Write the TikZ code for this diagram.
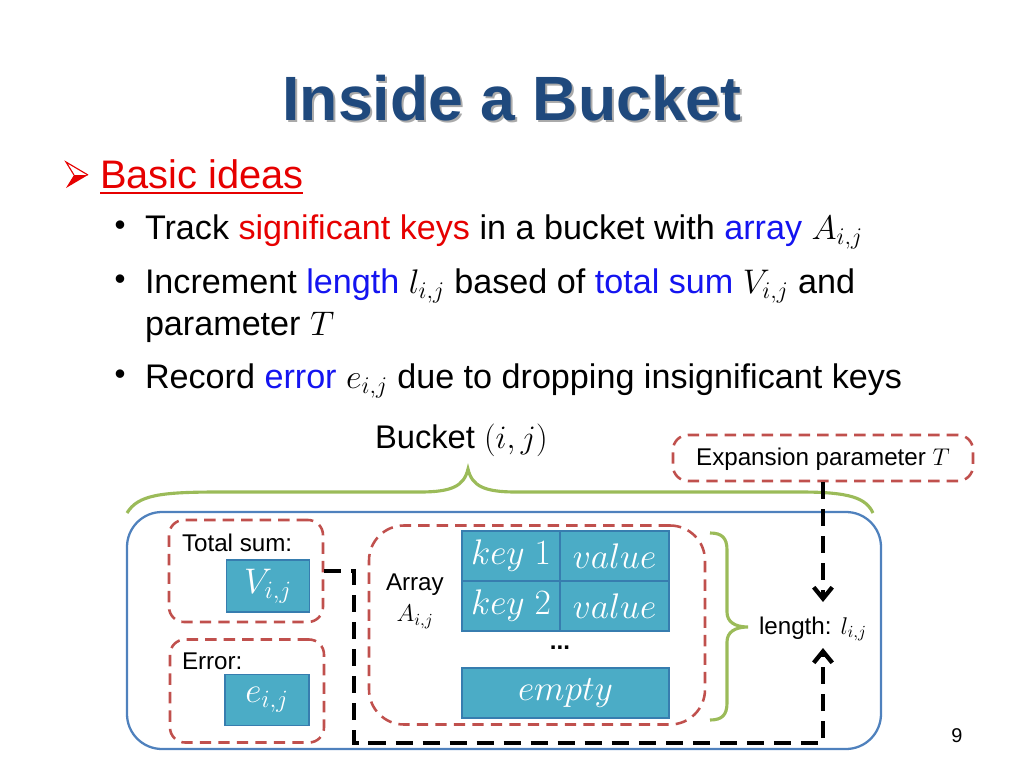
\RequirePackage{fix-cm}
\documentclass[tikz,border=0pt]{standalone}
\usepackage{fontspec}
\setmainfont{Liberation Sans}
\usetikzlibrary{arrows.meta}
\definecolor{titleblue}{RGB}{31,73,125}
\definecolor{shadowgray}{RGB}{170,170,170}
\definecolor{dashred}{RGB}{192,80,77}
\definecolor{bracegreen}{RGB}{155,187,89}
\definecolor{outerblue}{RGB}{79,129,189}
\definecolor{cellfill}{RGB}{75,172,198}
\definecolor{celldraw}{RGB}{55,125,175}
\definecolor{hired}{RGB}{230,0,0}
\definecolor{hiblue}{RGB}{20,20,240}
\newdimen\px \px=0.703pt
\newcommand\myfs[1]{\fontsize{#1}{#1}\selectfont}
\begin{document}
\begin{tikzpicture}[x=0.703pt,y=-0.703pt,
  txt/.style={inner sep=0pt, outer sep=0pt},
  redbox/.style={draw=dashred, line width=1.8pt, dash pattern=on 8pt off 5pt, rounded corners=15\px, inner sep=0pt},
  cell/.style={draw=celldraw, line width=1.2pt, fill=cellfill, text=white, inner sep=0pt, font=\myfs{25}},
  bracestyle/.style={draw=bracegreen, line width=2.2pt},
  blackdash/.style={draw=black, line width=3pt, dash pattern=on 12pt off 7pt},
  tipstyle/.style={-{Straight Barb[length=8pt, width=13pt]}}
]
\useasboundingbox (0,0) rectangle (1024,768);

% title
\node[txt, anchor=base, text=shadowgray, font=\myfs{44}\bfseries] at (514,122) {Inside a Bucket};
\node[txt, anchor=base, text=titleblue, font=\myfs{44}\bfseries] (title) at (512,120) {Inside a Bucket};

% level 1 bullet
\fill[hired] (88,175) -- (74,175) -- (66,188) -- cycle;
\draw[hired, line width=0.8pt, line join=miter] (74,175) -- (66,162) -- (88,175);
\node[txt, anchor=base west, text=hired, font=\myfs{28}] (basic) at (100,188) {Basic ideas};
\draw[hired, line width=1.8pt] (basic.base west) ++(0,5) -- ++(203,0);

% level 2 bullets
\foreach \yy/\nm in {239/b1, 293/b2, 388/b4}{
  \node[txt, font=\myfs{22}] (\nm) at (120,\yy-11) {\textbullet};
}
\node[txt, anchor=base west, font=\myfs{24}] (t1) at (145,239) {Track \textcolor{hired}{significant keys} in a bucket with \textcolor{hiblue}{array} $A_{i,j}$};
\node[txt, anchor=base west, font=\myfs{24}] (t2) at (145,293) {Increment \textcolor{hiblue}{length} $l_{i,j}$ based of \textcolor{hiblue}{total sum} $V_{i,j}$ and};
\node[txt, anchor=base west, font=\myfs{24}] (t3) at (145,335) {parameter $T$};
\node[txt, anchor=base west, font=\myfs{24}] (t4) at (145,388) {Record \textcolor{hiblue}{error} $e_{i,j}$ due to dropping insignificant keys};

% diagram header
\node[txt, anchor=base west, font=\myfs{23}] (bucket) at (375,448) {Bucket $(i,j)$};
\draw[bracestyle] (127,513) .. controls (138,495) and (160,492) .. (220,492) -- (420,492)
   .. controls (452,492) and (464,486) .. (468,469)
   .. controls (472,486) and (484,492) .. (516,492) -- (800,492)
   .. controls (850,492) and (866,498) .. (873,513);

\node[redbox, minimum width=300\px, minimum height=46\px] (exp) at (823,458) {};
\node[txt, font=\myfs{17}] (explabel) at (823,459) {Expansion parameter $T$};

% outer bucket
\draw[outerblue, line width=1.6pt, rounded corners=35\px] (127,512) rectangle (881,749);

% total sum
\node[redbox, minimum width=154\px, minimum height=102\px] (ts) at (246,571) {};
\node[txt, anchor=base west, font=\myfs{17}] (tslabel) at (182,551) {Total sum:};
\node[cell, minimum width=83\px, minimum height=52\px] (V) at (268,586) {$V_{i,j}$};

% error
\node[redbox, minimum width=154\px, minimum height=103\px] (er) at (247,691) {};
\node[txt, anchor=base west, font=\myfs{17}] (erlabel) at (182,669) {Error:};
\node[cell, minimum width=84\px, minimum height=51\px] (E) at (267,700) {$e_{i,j}$};

% array
\node[redbox, rounded corners=35\px, minimum width=336\px, minimum height=199\px] (arr) at (537,625) {};
\node[txt, anchor=base west, font=\myfs{17}] (arrlabel) at (386,590) {Array};
\node[txt, font=\myfs{17}] (arrA) at (415,617) {$A_{i,j}$};
\node[cell, minimum width=98\px, minimum height=50\px] (k1) at (511,556) {$key\ 1$};
\node[cell, minimum width=109\px, minimum height=50\px] (v1) at (614.5,556) {$value$};
\node[cell, minimum width=98\px, minimum height=50\px] (k2) at (511,606) {$key\ 2$};
\node[cell, minimum width=109\px, minimum height=50\px] (v2) at (614.5,606) {$value$};
\node[txt, font=\myfs{17}\bfseries] (dots) at (560,648) {...};
\node[cell, minimum width=207\px, minimum height=50\px] (emp) at (565.5,693) {$empty$};

% right brace and length
\draw[bracestyle] (710,533) .. controls (722,533) and (727,538) .. (727,550) -- (727,612)
   .. controls (727,622) and (735,627) .. (748,627)
   .. controls (735,627) and (727,632) .. (727,642) -- (727,703)
   .. controls (727,715) and (722,720) .. (710,720);
\node[txt, anchor=base west, font=\myfs{17}] (len) at (759,634) {length: $l_{i,j}$};

% dashed connectors
\coordinate (tipA) at (823,602);
\coordinate (tipB) at (823,648);
\coordinate (cB) at (823,743);
\draw[blackdash, tipstyle] (exp.south) -- (tipA);
\draw[blackdash, tipstyle] (ts.east) -- ++(30,0) |- (cB) -- (tipB);

% page number
\node[txt, font=\myfs{14}] (page) at (957,736) {9};
\end{tikzpicture}
\end{document}
